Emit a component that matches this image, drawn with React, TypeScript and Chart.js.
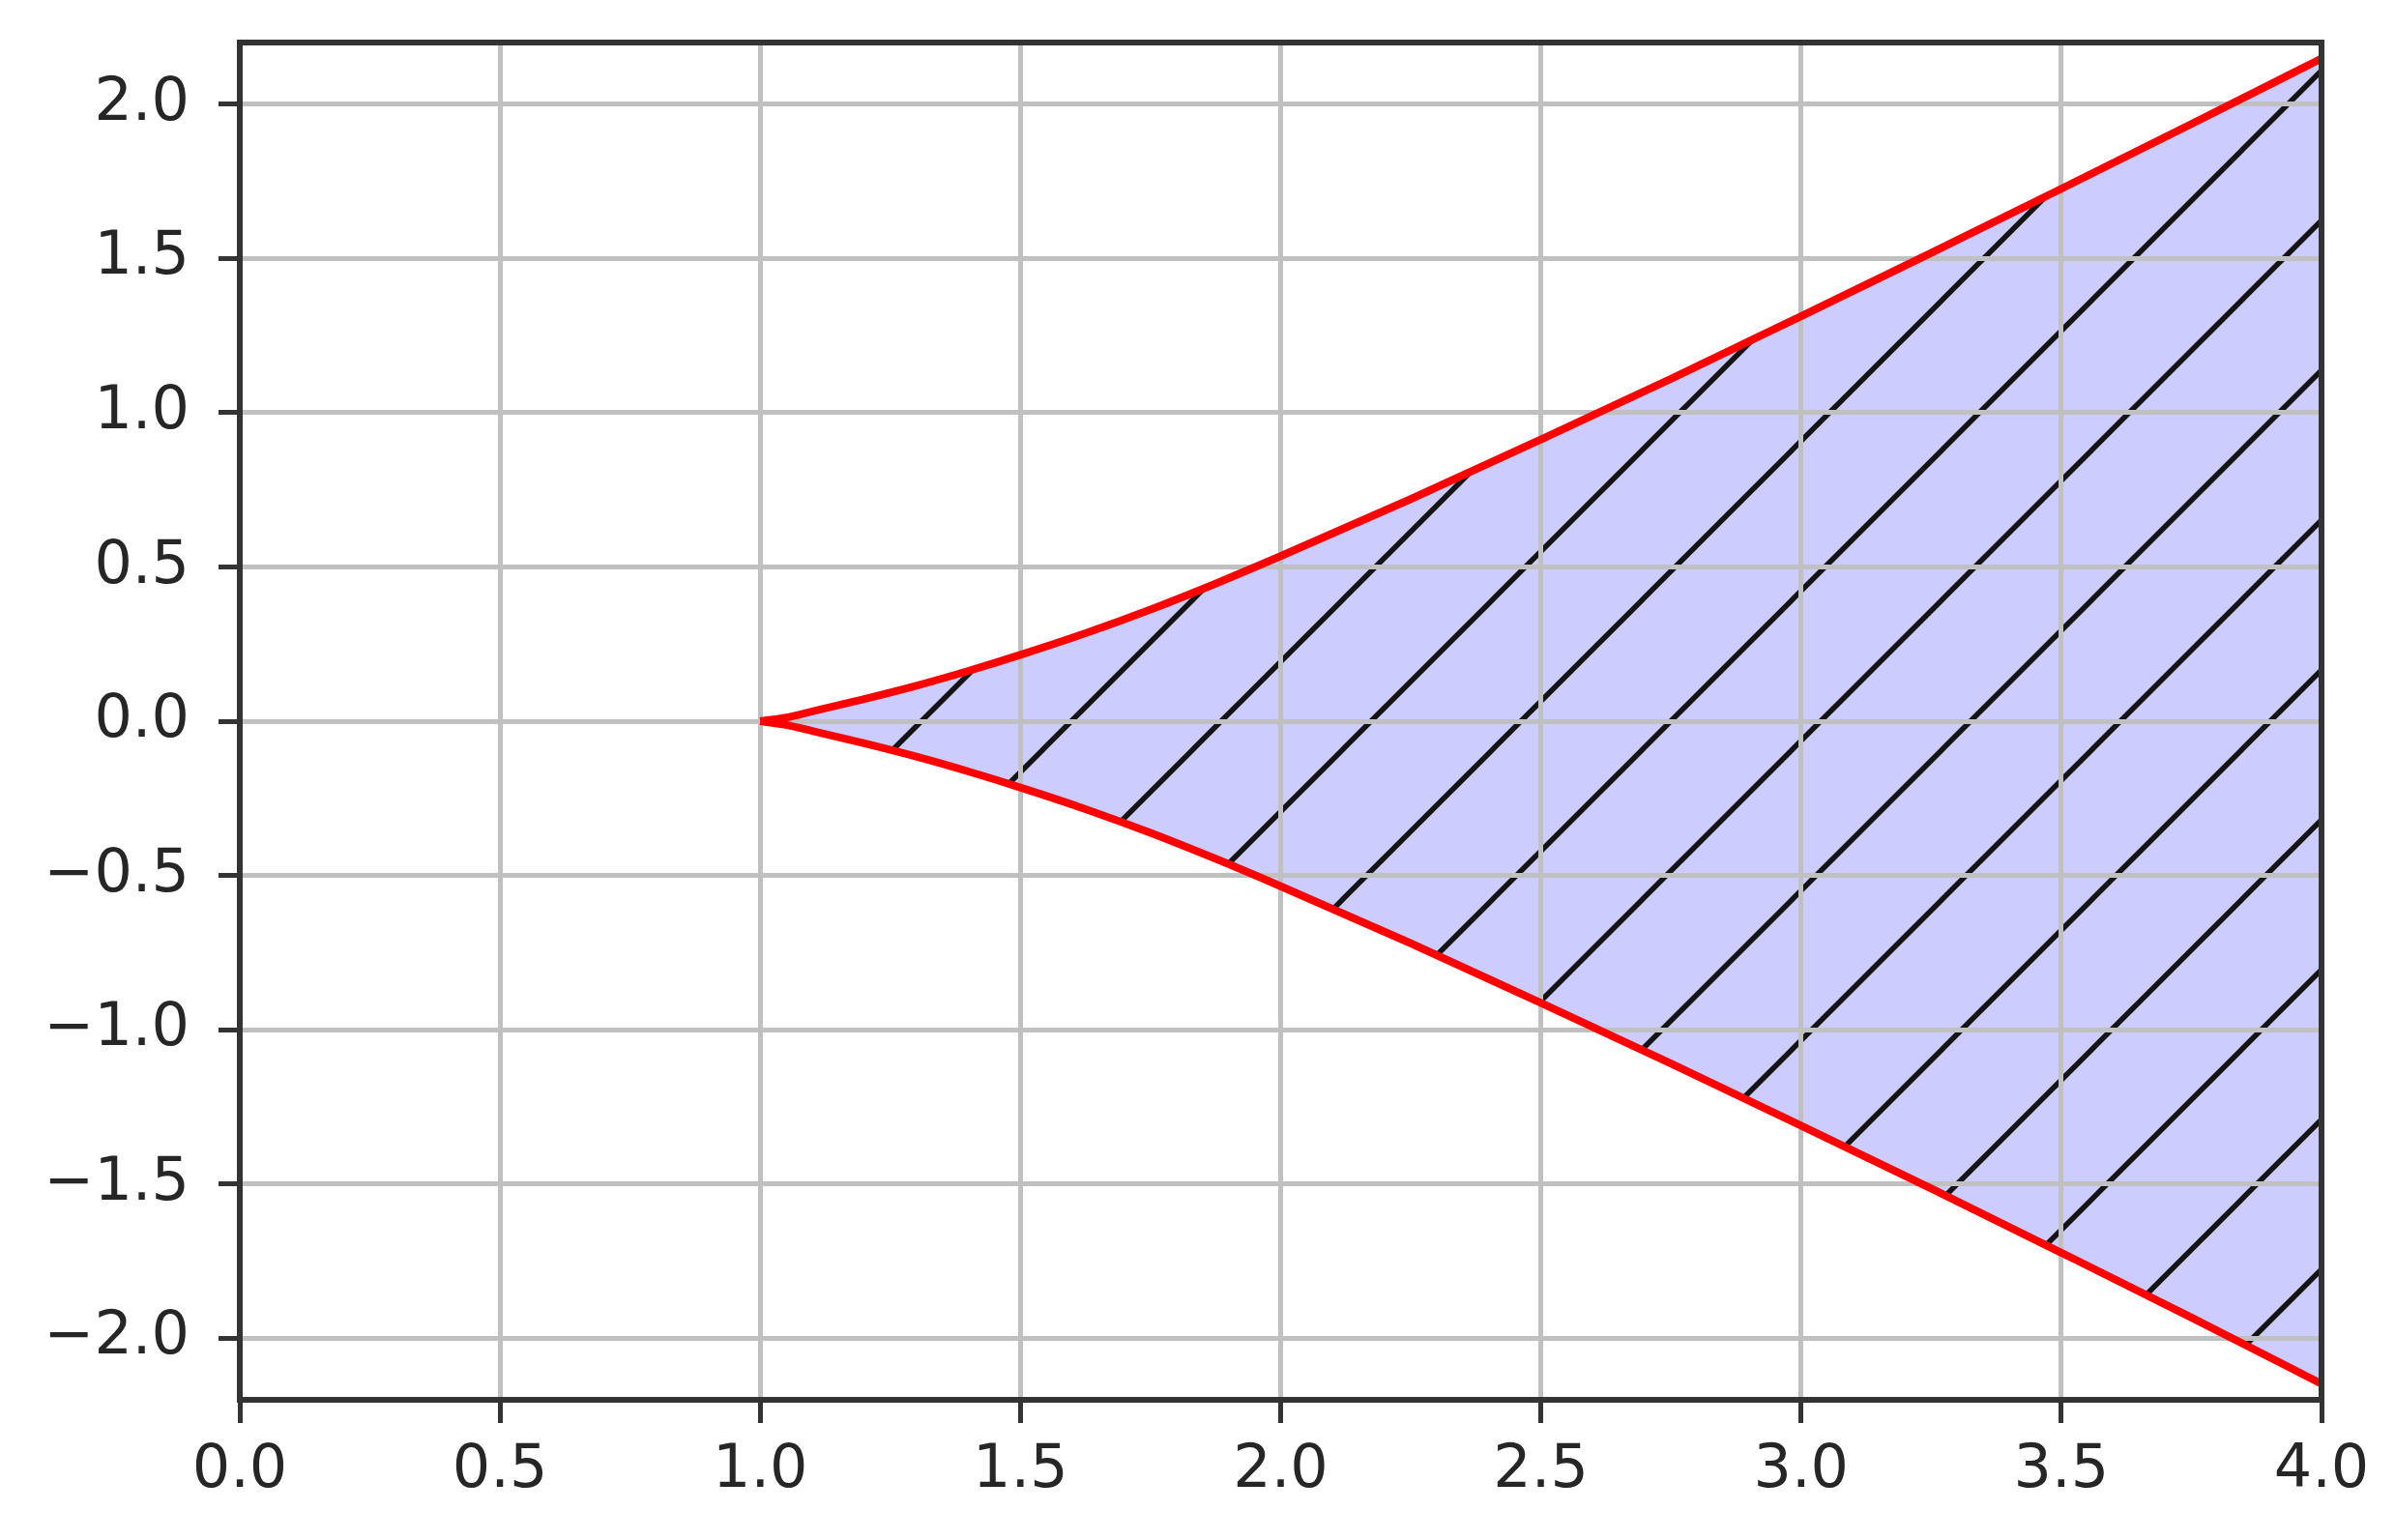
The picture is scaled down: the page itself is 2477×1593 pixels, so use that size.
import React, { useEffect, useRef } from 'react';
import { Chart, registerables } from 'chart.js';

Chart.register(...registerables);

// x positions sampled along the boundary curves
const curveX = [1.0, 1.05, 1.1, 1.2, 1.3, 1.4, 1.5, 1.625, 1.75, 1.875, 2.0, 2.25, 2.5, 2.75, 3.0, 3.25, 3.5, 3.75, 4.0];
// upper red boundary
const upperY = [0, 0.012, 0.032, 0.072, 0.115, 0.163, 0.215, 0.285, 0.362, 0.446, 0.535, 0.72, 0.913, 1.11, 1.313, 1.518, 1.726, 1.936, 2.148];
// lower red boundary
const lowerY = [0, -0.012, -0.032, -0.072, -0.115, -0.163, -0.215, -0.285, -0.362, -0.446, -0.535, -0.72, -0.913, -1.11, -1.311, -1.515, -1.723, -1.933, -2.148];

const xTicks = [0, 0.5, 1.0, 1.5, 2.0, 2.5, 3.0, 3.5, 4.0];
const yTicks = [-2.0, -1.5, -1.0, -0.5, 0, 0.5, 1.0, 1.5, 2.0];

const W = 2477;
const H = 1593;

function makeHatch(ctx: CanvasRenderingContext2D): CanvasPattern | string {
  const size = 155;
  const tile = document.createElement('canvas');
  tile.width = size;
  tile.height = size;
  const t = tile.getContext('2d');
  if (!t) return '#ccccff';
  t.fillStyle = '#ccccff';
  t.fillRect(0, 0, size, size);
  t.strokeStyle = '#141414';
  t.lineWidth = 5.5;
  t.lineCap = 'butt';
  const segs: [number, number, number, number][] = [
    [-10, size + 10, size + 10, -10],
    [-10, 10, 10, -10],
    [size - 10, size + 10, size + 10, size - 10],
  ];
  for (const [a, b, c, d] of segs) {
    t.beginPath();
    t.moveTo(a, b);
    t.lineTo(c, d);
    t.stroke();
  }
  const pat = ctx.createPattern(tile, 'repeat');
  if (!pat) return '#ccccff';
  try {
    pat.setTransform(new DOMMatrix([1, 0, 0, 1, -6, 0]));
  } catch (e) {
    /* ignore */
  }
  return pat;
}

const fmt = (v: number) => {
  const s = Math.abs(v).toFixed(1);
  return v < -1e-9 ? '\u2212' + s : s;
};

const spinesPlugin = {
  id: 'spines',
  afterDraw(chart: any) {
    const { ctx, chartArea } = chart;
    ctx.save();
    ctx.strokeStyle = '#333333';
    ctx.lineWidth = 6;
    ctx.strokeRect(chartArea.left, chartArea.top, chartArea.right - chartArea.left, chartArea.bottom - chartArea.top);
    ctx.restore();
  },
};

export default function App() {
  const ref = useRef<HTMLCanvasElement | null>(null);

  useEffect(() => {
    const canvas = ref.current;
    if (!canvas) return;
    const ctx = canvas.getContext('2d');
    if (!ctx) return;
    const hatch = makeHatch(ctx);

    const font = { family: "'DejaVu Sans', sans-serif", size: 62 };

    const chart = new Chart(ctx, {
      type: 'line',
      data: {
        datasets: [
          {
            label: 'upper',
            data: curveX.map((x, i) => ({ x, y: upperY[i] })),
            borderColor: '#ff0000',
            borderWidth: 8,
            backgroundColor: hatch as any,
            fill: '+1',
            pointRadius: 0,
            cubicInterpolationMode: 'monotone',
          },
          {
            label: 'lower',
            data: curveX.map((x, i) => ({ x, y: lowerY[i] })),
            borderColor: '#ff0000',
            borderWidth: 8,
            fill: false,
            pointRadius: 0,
            cubicInterpolationMode: 'monotone',
          },
        ],
      },
      options: {
        animation: false,
        responsive: false,
        devicePixelRatio: 1,
        layout: { padding: { top: 44, right: 76, left: 0, bottom: 0 } },
        plugins: {
          legend: { display: false },
          tooltip: { enabled: false },
          title: { display: false },
          filler: { drawTime: 'beforeDraw' } as any,
        },
        scales: {
          x: {
            type: 'linear',
            min: 0,
            max: 4,
            afterBuildTicks: (scale: any) => {
              scale.ticks = xTicks.map((v) => ({ value: v }));
            },
            afterFit: (scale: any) => {
              scale.height = H - 1448;
              scale.paddingLeft = 0;
              scale.paddingRight = 0;
            },
            grid: {
              color: '#c0c0c0',
              lineWidth: 5,
              tickColor: '#333333',
              tickWidth: 5,
              tickLength: 24,
              drawTicks: true,
            } as any,
            border: { display: false },
            ticks: {
              autoSkip: false,
              maxRotation: 0,
              padding: 13,
              color: '#262626',
              font,
              callback: (v: any) => fmt(Number(v)),
            },
          },
          y: {
            type: 'linear',
            min: -2.2,
            max: 2.2,
            afterBuildTicks: (scale: any) => {
              scale.ticks = yTicks.map((v) => ({ value: v }));
            },
            afterFit: (scale: any) => {
              scale.width = 248;
              scale.paddingTop = 0;
              scale.paddingBottom = 0;
            },
            grid: {
              color: '#c0c0c0',
              lineWidth: 5,
              tickColor: '#333333',
              tickWidth: 5,
              tickLength: 22,
              drawTicks: true,
            } as any,
            border: { display: false },
            ticks: {
              autoSkip: false,
              padding: 30,
              color: '#262626',
              font,
              callback: (v: any) => fmt(Number(v)),
            },
          },
        },
      },
      plugins: [spinesPlugin],
    });

    return () => {
      chart.destroy();
    };
  }, []);

  return (
    <canvas
      ref={ref}
      width={W}
      height={H}
      style={{ position: 'absolute', left: 0, top: 0, width: W + 'px', height: H + 'px', background: '#ffffff' }}
    />
  );
}
